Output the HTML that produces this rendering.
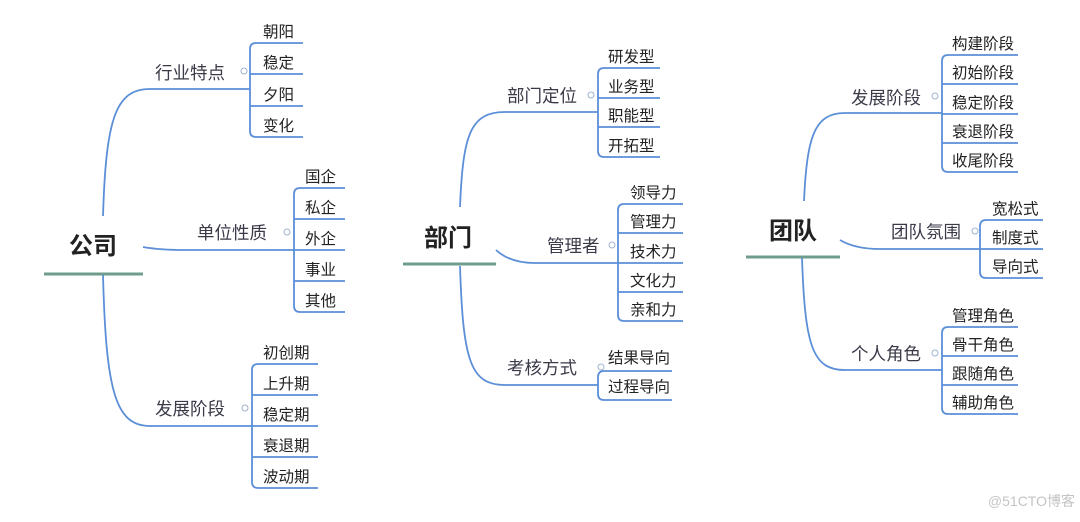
<!DOCTYPE html>
<html><head><meta charset="utf-8"><style>
html,body{margin:0;padding:0;background:#fff;}
svg{display:block;}
text{font-family:"Liberation Sans","Noto Sans CJK SC",sans-serif;}
.c{font-size:15.5px;fill:#222;}
.b{font-size:17.5px;fill:#3a3a48;}
.r{font-size:24px;font-weight:bold;fill:#222;}
.l{fill:none;stroke:#5b8fd8;stroke-width:1.8;}
.u{stroke:#6f9c8c;stroke-width:3;}
.k{fill:#fff;stroke:#9fb3d0;stroke-width:1;}
</style></head><body>
<svg width="1080" height="522" viewBox="0 0 1080 522" xmlns="http://www.w3.org/2000/svg">
<!-- 公司 -->
<text class="r" x="93" y="254" text-anchor="middle">公司</text>
<line class="u" x1="44" y1="274" x2="143" y2="274"/>
<path class="l" d="M103,216 C106,120 115,89 150,89 H250"/>
<text class="b" x="155" y="79">行业特点</text><circle class="k" cx="244" cy="71" r="3"/>
<path class="l" d="M256,43 Q250,43 250,49 V131 Q250,137 256,137 M256,43 H303 M250,74 H303 M250,106 H303 M256,137 H303"/>
<text class="c" x="263" y="37">朝阳</text><text class="c" x="263" y="68">稳定</text><text class="c" x="263" y="100">夕阳</text><text class="c" x="263" y="131">变化</text>
<path class="l" d="M143,247 Q160,250 185,250 H294"/>
<text class="b" x="197" y="239">单位性质</text><circle class="k" cx="287" cy="232" r="3"/>
<path class="l" d="M300,188 Q294,188 294,194 V306 Q294,312 300,312 M300,188 H345 M294,219 H345 M294,250 H345 M294,281 H345 M300,312 H345"/>
<text class="c" x="305" y="182">国企</text><text class="c" x="305" y="213">私企</text><text class="c" x="305" y="244">外企</text><text class="c" x="305" y="275">事业</text><text class="c" x="305" y="306">其他</text>
<path class="l" d="M103,275 C106,390 115,426 150,426 H252"/>
<text class="b" x="155" y="415">发展阶段</text><circle class="k" cx="245" cy="408" r="3"/>
<path class="l" d="M258,364 Q252,364 252,370 V482 Q252,488 258,488 M258,364 H318 M252,395 H318 M252,426 H318 M252,457 H318 M258,488 H318"/>
<text class="c" x="263" y="358">初创期</text><text class="c" x="263" y="389">上升期</text><text class="c" x="263" y="420">稳定期</text><text class="c" x="263" y="451">衰退期</text><text class="c" x="263" y="482">波动期</text>
<!-- 部门 -->
<text class="r" x="448" y="246" text-anchor="middle">部门</text>
<line class="u" x1="403" y1="264" x2="496" y2="264"/>
<path class="l" d="M460,207 C463,135 470,112 505,112 H598"/>
<text class="b" x="507" y="102">部门定位</text><circle class="k" cx="591" cy="95" r="3"/>
<path class="l" d="M604,68 Q598,68 598,74 V151 Q598,157 604,157 M604,68 H660 M598,98 H660 M598,127 H660 M604,157 H660"/>
<text class="c" x="608" y="62">研发型</text><text class="c" x="608" y="92">业务型</text><text class="c" x="608" y="121">职能型</text><text class="c" x="608" y="151">开拓型</text>
<path class="l" d="M496,250 Q510,263 535,263 H618"/>
<text class="b" x="547" y="252">管理者</text><circle class="k" cx="612" cy="245" r="3"/>
<path class="l" d="M624,204 Q618,204 618,210 V315 Q618,321 624,321 M624,204 H683 M618,233 H683 M618,263 H683 M618,292 H683 M624,321 H683"/>
<text class="c" x="630" y="198">领导力</text><text class="c" x="630" y="227">管理力</text><text class="c" x="630" y="257">技术力</text><text class="c" x="630" y="286">文化力</text><text class="c" x="630" y="315">亲和力</text>
<path class="l" d="M460,266 C463,360 470,385 505,385 H598"/>
<text class="b" x="507" y="374">考核方式</text><circle class="k" cx="601" cy="367" r="3"/>
<path class="l" d="M604,371 Q598,371 598,377 V394 Q598,400 604,400 M604,371 H672 M604,400 H672"/>
<text class="c" x="608" y="363">结果导向</text><text class="c" x="608" y="392">过程导向</text>
<!-- 团队 -->
<text class="r" x="793" y="239" text-anchor="middle">团队</text>
<line class="u" x1="746" y1="257" x2="840" y2="257"/>
<path class="l" d="M804,201 C807,135 815,113 845,113 H942"/>
<text class="b" x="851" y="104">发展阶段</text><circle class="k" cx="935" cy="96" r="3"/>
<path class="l" d="M948,55 Q942,55 942,61 V166 Q942,172 948,172 M948,55 H1018 M942,84 H1018 M942,114 H1018 M942,143 H1018 M948,172 H1018"/>
<text class="c" x="952" y="49">构建阶段</text><text class="c" x="952" y="78">初始阶段</text><text class="c" x="952" y="108">稳定阶段</text><text class="c" x="952" y="137">衰退阶段</text><text class="c" x="952" y="166">收尾阶段</text>
<path class="l" d="M840,240 Q855,249 880,249 H980"/>
<text class="b" x="891" y="238">团队氛围</text><circle class="k" cx="975" cy="231" r="3"/>
<path class="l" d="M986,220 Q980,220 980,226 V272 Q980,278 986,278 M986,220 H1043 M980,249 H1043 M986,278 H1043"/>
<text class="c" x="992" y="214">宽松式</text><text class="c" x="992" y="243">制度式</text><text class="c" x="992" y="272">导向式</text>
<path class="l" d="M802,258 C805,345 812,370 845,370 H942"/>
<text class="b" x="851" y="360">个人角色</text><circle class="k" cx="935" cy="353" r="3"/>
<path class="l" d="M948,327 Q942,327 942,333 V408 Q942,414 948,414 M948,327 H1018 M942,356 H1018 M942,385 H1018 M948,414 H1018"/>
<text class="c" x="952" y="321">管理角色</text><text class="c" x="952" y="350">骨干角色</text><text class="c" x="952" y="379">跟随角色</text><text class="c" x="952" y="408">辅助角色</text>
<text x="1075" y="506" text-anchor="end" style="font-size:14px;fill:#c4c4c4;">@51CTO博客</text>
</svg>
</body></html>
